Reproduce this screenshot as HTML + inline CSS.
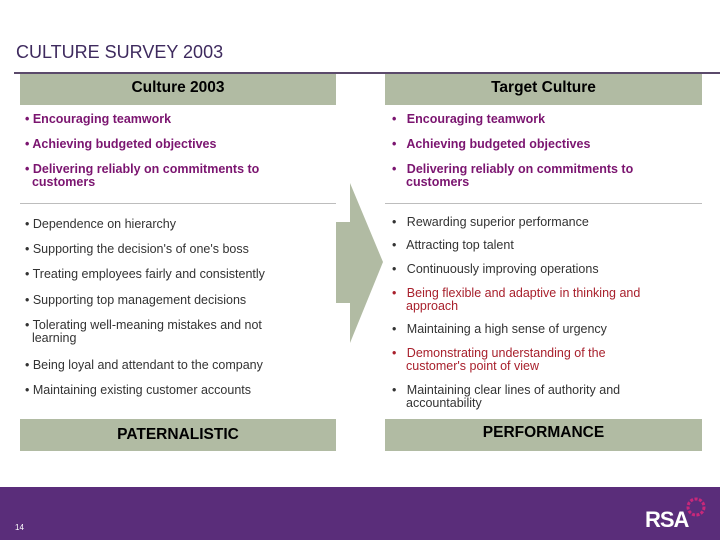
<!DOCTYPE html>
<html><head><meta charset="utf-8"><style>
body{margin:0;width:720px;height:540px;position:relative;overflow:hidden;background:#fff;font-family:"Liberation Sans",Arial,sans-serif}
.a{position:absolute}
.hd{background:#b1bba3;font-weight:bold;font-size:15.5px;color:#000;text-align:center}
.it{position:absolute;font-size:12.5px;line-height:13px;color:#333;white-space:nowrap}
.p{color:#7b1570;font-weight:bold}
.r{color:#a8202c}
.sep{position:absolute;height:1px;background:#bdbdbd}
</style></head><body>
<div class="a" style="left:16px;top:42px;font-size:18px;color:#3e2a5e">CULTURE SURVEY 2003</div>
<div class="a" style="left:14px;top:72px;width:706px;height:2px;background:#5b4a6b"></div>
<div class="a hd" style="left:20px;top:74px;width:316px;height:31px;line-height:28px">Culture 2003</div>
<div class="a hd" style="left:385px;top:74px;width:317px;height:31px;line-height:28px">Target Culture</div>

<div>
<div class="it p" style="left:25px;top:113px">• Encouraging teamwork</div>
<div class="it p" style="left:25px;top:138px">• Achieving budgeted objectives</div>
<div class="it p" style="left:25px;top:163px">• Delivering reliably on commitments to<br>&nbsp;&nbsp;customers</div>
<div class="it" style="left:25px;top:218px">• Dependence on hierarchy</div>
<div class="it" style="left:25px;top:243px">• Supporting the decision's of one's boss</div>
<div class="it" style="left:25px;top:268px">• Treating employees fairly and consistently</div>
<div class="it" style="left:25px;top:294px">• Supporting top management decisions</div>
<div class="it" style="left:25px;top:319px">• Tolerating well-meaning mistakes and not<br>&nbsp;&nbsp;learning</div>
<div class="it" style="left:25px;top:359px">• Being loyal and attendant to the company</div>
<div class="it" style="left:25px;top:384px">• Maintaining existing customer accounts</div>
</div>
<div class="sep" style="left:20px;top:203px;width:316px"></div>
<div class="sep" style="left:385px;top:203px;width:317px"></div>

<div>
<div class="it p" style="left:392px;top:113px">•&nbsp;&nbsp; Encouraging teamwork</div>
<div class="it p" style="left:392px;top:138px">•&nbsp;&nbsp; Achieving budgeted objectives</div>
<div class="it p" style="left:392px;top:163px">•&nbsp;&nbsp; Delivering reliably on commitments to<br><span style="padding-left:14px">customers</span></div>
<div class="it" style="left:392px;top:216px">•&nbsp;&nbsp; Rewarding superior performance</div>
<div class="it" style="left:392px;top:239px">•&nbsp;&nbsp; Attracting top talent</div>
<div class="it" style="left:392px;top:263px">•&nbsp;&nbsp; Continuously improving operations</div>
<div class="it r" style="left:392px;top:287px">•&nbsp;&nbsp; Being flexible and adaptive in thinking and<br><span style="padding-left:14px">approach</span></div>
<div class="it" style="left:392px;top:323px">•&nbsp;&nbsp; Maintaining a high sense of urgency</div>
<div class="it r" style="left:392px;top:347px">•&nbsp;&nbsp; Demonstrating understanding of the<br><span style="padding-left:14px">customer's point of view</span></div>
<div class="it" style="left:392px;top:384px">•&nbsp;&nbsp; Maintaining clear lines of authority and<br><span style="padding-left:14px">accountability</span></div>
</div>

<svg class="a" style="left:0;top:0" width="720" height="540"><polygon points="336,222 350,222 350,183 383,262 350,343 350,303 336,303" fill="#b1bba3"/></svg>

<div class="a hd" style="left:20px;top:419px;width:316px;height:32px;line-height:32px">PATERNALISTIC</div>
<div class="a hd" style="left:385px;top:419px;width:317px;height:32px;line-height:28px">PERFORMANCE</div>

<div class="a" style="left:0;top:487px;width:720px;height:53px;background:#5a2d7a"></div>
<div class="a" style="left:15px;top:523px;font-size:8px;color:#fff">14</div>
<div class="a" style="left:645px;top:507px;font-size:22px;font-weight:bold;color:#fff;letter-spacing:-1px">RSA</div>
<svg class="a" style="left:684px;top:495px" width="24" height="24"><circle cx="12" cy="12" r="8" fill="none" stroke="#c8287a" stroke-width="3" stroke-dasharray="3 1.5"/></svg>
</body></html>
